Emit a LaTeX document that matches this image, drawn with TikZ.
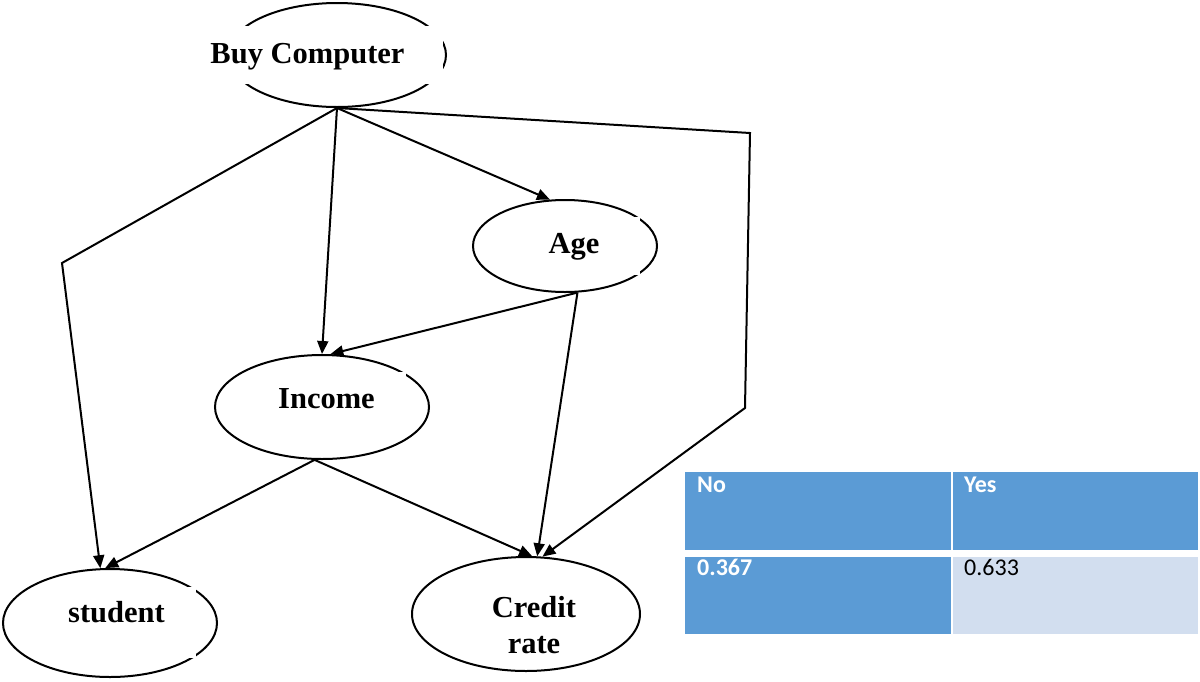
\documentclass[tikz,border=0pt]{standalone}
\usepackage{fontspec}
\setmainfont{Liberation Serif}
\newfontfamily\tablefont{Carlito}
\usetikzlibrary{arrows.meta,shapes.geometric}
\definecolor{cellblue}{HTML}{5B9BD5}
\definecolor{celllight}{HTML}{D2DEEF}
\tikzset{
  oval/.style={draw, ellipse, line width=2pt, inner sep=0pt},
  varname/.style={font=\fontsize{30.5}{36}\selectfont\bfseries, inner sep=0pt,
                  fill=white, anchor=base},
  conn/.style={line width=2pt, line join=miter,
               -{Triangle[length=13pt,width=11pt]}},
  celltext/.style={font=\tablefont\fontsize{24}{28}\selectfont, inner sep=0pt,
                   anchor=base west},
}
\begin{document}
\begin{tikzpicture}[x=1pt,y=-1pt]
\useasboundingbox (0,0) rectangle (1200,681);

% variables of the network
\node[oval, minimum width=218pt, minimum height=104pt] (buy)     at (337,55)  {};
\node[oval, minimum width=184pt, minimum height=92pt]  (age)     at (565,246) {};
\node[oval, minimum width=214pt, minimum height=104pt] (income)  at (322,407) {};
\node[oval, minimum width=214pt, minimum height=108pt] (student) at (110,623) {};
\node[oval, minimum width=228pt, minimum height=114pt] (credit)  at (526,614) {};

% labels on white text boxes
\node[varname, minimum width=271pt, text height=37pt, text depth=21pt] (buylbl) at (307.5,63) {Buy Computer};
\node[varname, minimum width=132pt, text height=36pt, text depth=22pt] (agelbl) at (574,253) {Age};
\node[varname, minimum width=159pt, text height=36pt, text depth=22pt] (inclbl) at (326.5,408) {Income};
\node[varname, minimum width=159pt, text height=35pt, text depth=36pt] (stulbl) at (116.5,622) {student};
\node[font=\fontsize{30.5}{36}\selectfont\bfseries, inner sep=0pt, align=center] (crelbl) at (534,625) {Credit\\rate};

% bend points of the routed edges
\coordinate (lbend) at (62,263);
\coordinate (rtop)  at (750,133);
\coordinate (rbot)  at (745,408);

% dependencies
\draw[conn] (buy.south) -- (lbend) -- (student.100);
\draw[conn] (buy.south) -- (income.north);
\draw[conn] (buy.south) -- (age.108);
\draw[conn] (buy.south) -- (rtop) -- (rbot) -- (credit.74);
\draw[conn] (age.285) -- (income.81);
\draw[conn] (age.285) -- (credit.79);
\draw[conn] (income.262) -- (student.95);
\draw[conn] (income.262) -- (credit.84);

% probability table
\fill[cellblue]  (685,472) rectangle (951,550);
\fill[cellblue]  (953,472) rectangle (1198,550);
\fill[cellblue]  (685,557) rectangle (951,634);
\fill[celllight] (953,557) rectangle (1198,634);
\node[celltext, text=white, font=\tablefont\fontsize{24}{28}\selectfont\bfseries] (tno)  at (697,492) {No};
\node[celltext, text=white, font=\tablefont\fontsize{24}{28}\selectfont\bfseries] (tyes) at (964,492) {Yes};
\node[celltext, text=white, font=\tablefont\fontsize{24}{28}\selectfont\bfseries] (pno)  at (697,575) {0.367};
\node[celltext, text=black] (pyes) at (964,575) {0.633};
\end{tikzpicture}
\end{document}
